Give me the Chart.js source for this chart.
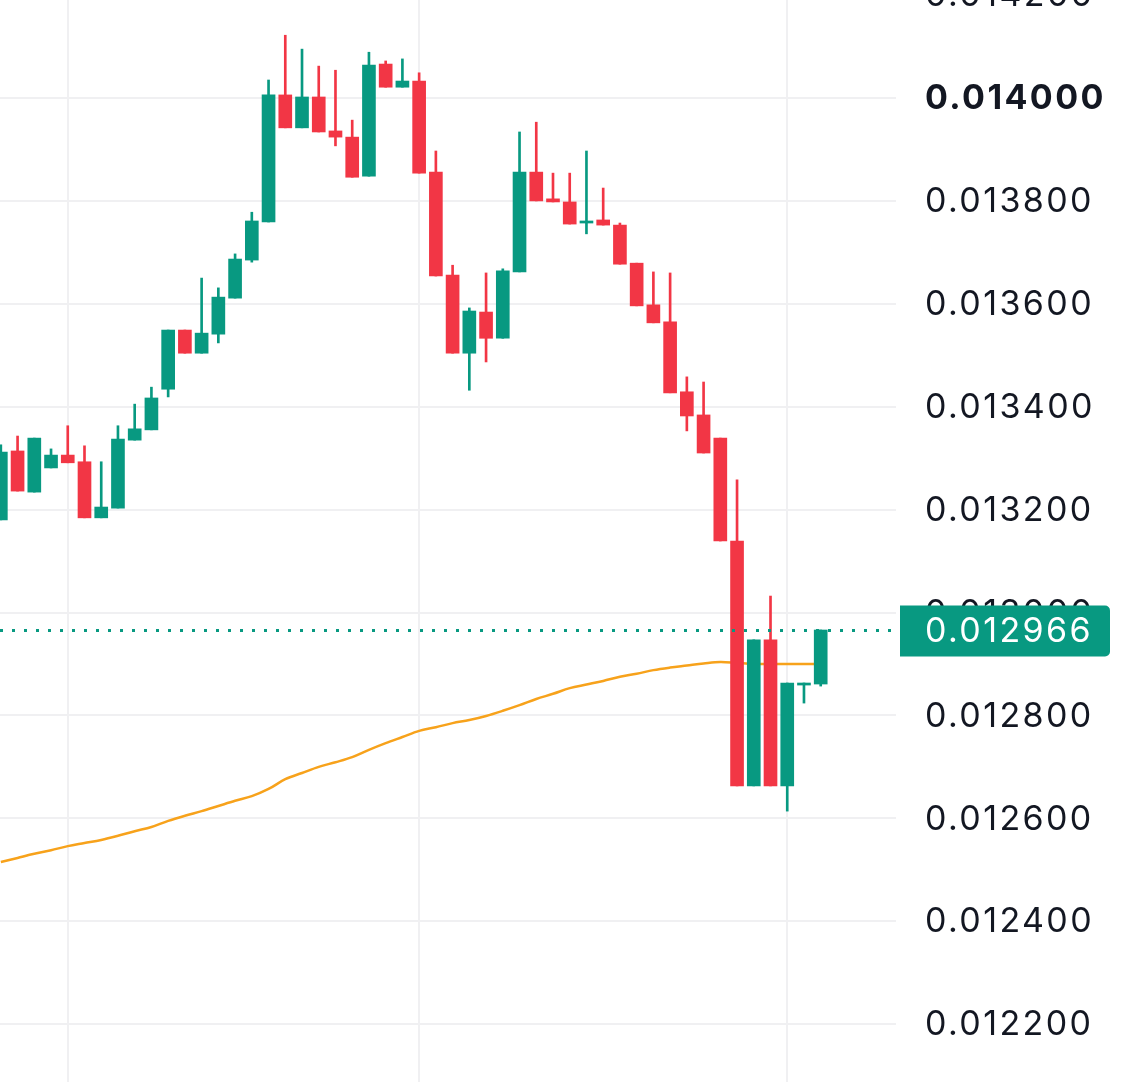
<!DOCTYPE html>
<html>
<head>
<meta charset="utf-8">
<script src="https://cdn.jsdelivr.net/npm/chart.js@4.4.1/dist/chart.umd.min.js"></script>
<style>
  html, body { margin: 0; padding: 0; background: #ffffff; overflow: hidden; width: 1125px; height: 1082px; }
  #wrap { position: absolute; left: 0; top: -30px; width: 1125px; height: 1112px; }
</style>
</head>
<body>
<div id="wrap"><canvas id="c" width="1125" height="1112"></canvas></div>
<script>
// ---- data ----
const candleIndex = [0,1,2,3,4,5,6,7,8,9,10,11,12,13,14,15,16,17,18,19,20,21,22,23,24,25,26,27,28,29,30,31,32,33,34,35,36,37,38,39,40,41,42,43,44,45,46,47,48,49];
const opens = [0.013180,0.013314,0.013234,0.013281,0.013306,0.013293,0.013184,0.013203,0.013335,0.013355,
  0.013434,0.013549,0.013504,0.013541,0.013611,0.013685,0.013759,0.014006,0.013942,0.014002,
  0.013936,0.013924,0.013848,0.014066,0.014021,0.014033,0.013856,0.013656,0.013504,0.013584,
  0.013533,0.013662,0.013856,0.013804,0.013798,0.013757,0.013763,0.013753,0.013679,0.013598,
  0.013565,0.013429,0.013384,0.013339,0.013139,0.012663,0.012947,0.012663,0.012859,0.012861];
const highs = [0.013326,0.013343,0.013339,0.013318,0.013363,0.013324,0.013293,0.013363,0.013405,0.013438,
  0.013549,0.013549,0.013650,0.013631,0.013697,0.013778,0.014035,0.014122,0.014095,0.014062,
  0.014054,0.013957,0.014089,0.014072,0.014076,0.014049,0.013897,0.013675,0.013592,0.013660,
  0.013668,0.013934,0.013953,0.013854,0.013854,0.013897,0.013825,0.013757,0.013679,0.013662,
  0.013660,0.013458,0.013448,0.013339,0.013258,0.012947,0.013032,0.012863,0.012863,0.012966];
const lows = [0.013180,0.013236,0.013234,0.013281,0.013291,0.013184,0.013184,0.013203,0.013335,0.013355,
  0.013419,0.013504,0.013504,0.013524,0.013611,0.013681,0.013759,0.013942,0.013942,0.013934,
  0.013907,0.013846,0.013848,0.014021,0.014021,0.013854,0.013654,0.013504,0.013432,0.013487,
  0.013533,0.013662,0.013800,0.013798,0.013755,0.013736,0.013753,0.013677,0.013596,0.013563,
  0.013427,0.013353,0.013310,0.013139,0.012663,0.012663,0.012663,0.012614,0.012824,0.012857];
const closes = [0.013312,0.013236,0.013339,0.013306,0.013291,0.013184,0.013205,0.013337,0.013357,0.013417,
  0.013549,0.013504,0.013543,0.013613,0.013687,0.013761,0.014006,0.013942,0.014002,0.013934,
  0.013924,0.013846,0.014064,0.014021,0.014033,0.013854,0.013654,0.013504,0.013586,0.013533,
  0.013664,0.013856,0.013800,0.013798,0.013755,0.013761,0.013753,0.013677,0.013596,0.013563,
  0.013427,0.013382,0.013310,0.013139,0.012663,0.012947,0.012663,0.012863,0.012863,0.012966];
const maValues = [0.012515,0.012523,0.012531,0.012538,0.012546,0.012552,0.012558,0.012566,0.012575,0.012583,
  0.012595,0.012605,0.012614,0.012624,0.012634,0.012643,0.012657,0.012676,0.012688,0.012700,
  0.012709,0.012719,0.012733,0.012746,0.012758,0.012770,0.012777,0.012785,0.012791,0.012799,
  0.012809,0.012820,0.012832,0.012842,0.012853,0.012860,0.012867,0.012875,0.012881,0.012888,
  0.012893,0.012897,0.012901,0.012904,0.012902,0.012900,0.012900,0.012900,0.012900,0.012900];
const yTickValues = [0.0122,0.0124,0.0126,0.0128,0.0130,0.0132,0.0134,0.0136,0.0138,0.0140,0.0142];
const boldTick = 0.0140;
const xGridValues = [4, 25, 47];
const lastPrice = 0.012966;

// ---- styles ----
const UP = '#089981', DOWN = '#F23645', MA = '#F7A21B';
const FONT = 'Inter, "Noto Sans", sans-serif';
const LABEL_SPACING = '2.4px';
const colorAt = (i) => closes[i] >= opens[i] ? UP : DOWN;

const bodies = candleIndex.map(i => ({ x: i, y: [opens[i], closes[i]] }));
const wicks = candleIndex.map(i => ({ x: i, y: [lows[i], highs[i]] }));
const maLine = candleIndex.map(i => ({ x: i, y: maValues[i] }));

const overlay = {
  id: 'overlay',
  afterDatasetsDraw(chart) {
    // dotted last-price line, on top of the candles
    const ctx = chart.ctx, area = chart.chartArea;
    const y = Math.round(chart.scales.y.getPixelForValue(lastPrice)) + 0.5;
    ctx.save();
    ctx.beginPath();
    ctx.rect(area.left, area.top, area.right - area.left, area.bottom - area.top);
    ctx.clip();
    ctx.strokeStyle = UP;
    ctx.lineWidth = 3;
    ctx.setLineDash([3, 9]);
    ctx.beginPath();
    ctx.moveTo(area.left, y);
    ctx.lineTo(area.right, y);
    ctx.stroke();
    ctx.restore();
  },
  afterDraw(chart) {
    const ctx = chart.ctx, area = chart.chartArea, ys = chart.scales.y;
    const tx = area.right + 29;
    ctx.save();
    ctx.letterSpacing = LABEL_SPACING;
    ctx.textAlign = 'left';
    ctx.textBaseline = 'middle';
    // axis labels
    yTickValues.forEach(v => {
      const py = ys.getPixelForValue(v);
      const isBold = Math.abs(v - boldTick) < 1e-9;
      ctx.font = (isBold ? 'bold ' : '') + '34px ' + FONT;
      ctx.fillStyle = '#131722';
      ctx.fillText(v.toFixed(6), tx, py + 1);
    });
    // last price label
    const y = ys.getPixelForValue(lastPrice);
    const x0 = area.right + 4, x1 = chart.width - 15, h = 51;
    ctx.fillStyle = UP;
    ctx.beginPath();
    ctx.roundRect(x0, y - h / 2 + 1, x1 - x0, h, [0, 5, 5, 0]);
    ctx.fill();
    ctx.fillStyle = '#ffffff';
    ctx.font = '34px ' + FONT;
    ctx.fillText(lastPrice.toFixed(6), tx, y + 2);
    ctx.restore();
  }
};

new Chart(document.getElementById('c'), {
  type: 'bar',
  data: {
    datasets: [
      { type: 'bar', data: bodies, grouped: false, barThickness: 13, minBarLength: 2,
        backgroundColor: (c) => colorAt(c.dataIndex), borderWidth: 0, order: 1 },
      { type: 'bar', data: wicks, grouped: false, barThickness: 2,
        backgroundColor: (c) => colorAt(c.dataIndex), borderWidth: 0, order: 2 },
      { type: 'line', data: maLine, borderColor: MA, borderWidth: 2.5, pointRadius: 0,
        tension: 0.35, order: 3 }
    ]
  },
  options: {
    responsive: false,
    animation: false,
    devicePixelRatio: 1,
    layout: { padding: 0 },
    plugins: { legend: { display: false }, tooltip: { enabled: false } },
    scales: {
      x: {
        type: 'linear', min: -0.05, max: 53.5, offset: false,
        afterBuildTicks: (s) => { s.ticks = xGridValues.map(v => ({ value: v })); },
        afterFit: (s) => { s.height = 0; },
        ticks: { display: false },
        grid: { color: '#f0f0f2', lineWidth: 2, drawTicks: false, offset: false },
        border: { display: false }
      },
      y: {
        type: 'linear', position: 'right', min: 0.0120875, max: 0.0142488,
        afterBuildTicks: (s) => { s.ticks = yTickValues.map(v => ({ value: v })); },
        afterFit: (s) => { s.width = 229; },
        ticks: { display: false },
        grid: { color: '#f0f0f2', lineWidth: 2, drawTicks: false },
        border: { display: false }
      }
    }
  },
  plugins: [overlay]
});
</script>
</body>
</html>
